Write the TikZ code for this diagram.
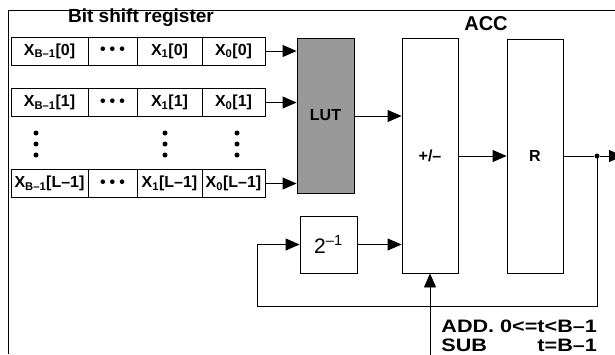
\documentclass[tikz,border=0pt]{standalone}
\usepackage{fontspec}
\setmainfont{Liberation Sans}
\newfontfamily\widesans{Liberation Sans}[FakeStretch=1.2]
\usetikzlibrary{arrows.meta}
\definecolor{lutgray}{HTML}{999999}
\begin{document}
\begin{tikzpicture}[x=1pt,y=-1pt,
  line width=0.9pt,
  every node/.style={font=\bfseries},
  cell/.style={draw, minimum height=28pt, inner sep=0pt, font=\bfseries\fontsize{16}{16}\selectfont},
  blk/.style={draw, inner sep=0pt, font=\bfseries\fontsize{16}{16}\selectfont},
  arr/.style={-{Triangle[length=14pt,width=12pt]}},
  vdot/.style={circle, fill, inner sep=0pt, minimum size=5pt},
  ttl/.style={font=\bfseries\fontsize{19}{19}\selectfont},
]
\useasboundingbox (0,0) rectangle (615,354);
\draw (8,354) -- (8,10.5) -- (615,10.5);

\node[ttl] (title) at (141,18) {Bit shift register};
\node[ttl, font=\bfseries\fontsize{20}{20}\selectfont] (acc) at (486,24) {ACC};

% register rows
\foreach \r/\y/\t in {0/51/0, 1/102.5/1, 2/183.5/L–1}{
  \node[cell, minimum width=77pt] (a\r) at (49.5,\y) {X\textsubscript{B–1}[\t]};
  \node[cell, minimum width=49pt] (b\r) at (112.5,\y) {•\hspace{4pt}•\hspace{4pt}•};
  \node[cell, minimum width=65pt] (c\r) at (169.5,\y) {X\textsubscript{1}[\t]};
  \node[cell, minimum width=63pt] (e\r) at (233.5,\y) {X\textsubscript{0}[\t]};
}
\foreach \x/\n in {36/p, 165/q, 237/s}{
  \foreach \y/\m in {133/1, 144/2, 155/3}{
    \node[vdot] (\n\m) at (\x,\y) {};
  }
}

\node[blk, fill=lutgray, minimum width=57pt, minimum height=155pt] (lut) at (325.5,115.5) {LUT};
\node[blk, minimum width=56pt, minimum height=235pt] (pm) at (430,155.5) {+/–};
\node[blk, minimum width=56pt, minimum height=234pt] (reg) at (535,156) {R};
\node[blk, minimum width=57pt, minimum height=57pt, font=\fontsize{21}{21}\selectfont] (two) at (328.5,244.5) {2\textsuperscript{–1}};

\foreach \r in {0,1,2}{
  \draw[arr] (e\r.east) -- (lut.west |- e\r.east);
}
\draw[arr] (lut.east |- 0,116) -- (pm.west |- 0,116);
\draw[arr] (pm.east |- reg.west) -- (reg.west);
\node[vdot, minimum size=5pt] (j) at (597,156) {};
\coordinate (out) at (623,156);
\coordinate (fb) at (257,306);
\coordinate (ctl) at (430,360);
\draw (reg.east |- j) -- (j);
\draw[arr] (j) -- (out);
\draw[arr] (j.center) |- (fb) |- (two.west);
\draw[arr] (two.east) -- (pm.west |- two.east);
\draw[arr] (ctl) -- (pm.south);

\node[anchor=north west, inner sep=0pt, font=\widesans\bfseries\fontsize{18}{19.5}\selectfont] (lbl) at (441,318)
  {\begin{tabular}{@{}l@{}}ADD. 0<=t<B–1\\SUB\hfill t=B–1\end{tabular}};
\end{tikzpicture}
\end{document}
